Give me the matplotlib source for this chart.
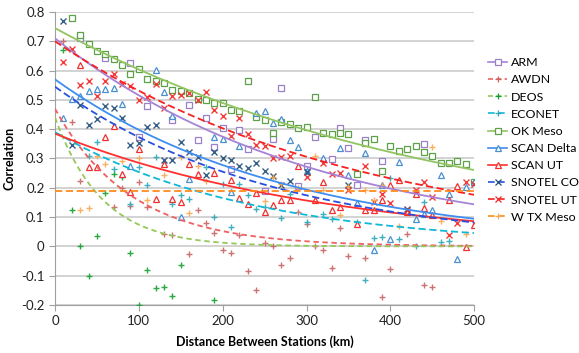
import matplotlib
matplotlib.use("Agg")
import matplotlib.pyplot as plt
from matplotlib.lines import Line2D
import numpy as np

plt.rcParams['font.family'] = ['Lato', 'DejaVu Sans']

# scatter data: distance (km) -> correlation
arm_x = [30, 60, 90, 100, 110, 140, 160, 170, 180, 190, 200, 210, 220, 230, 250, 260, 270, 290,
         300, 310, 330, 340, 350, 360, 370, 390, 440]
arm_y = [0.71, 0.644, 0.627, 0.375, 0.478, 0.43, 0.481, 0.362, 0.437, 0.339, 0.404, 0.263, 0.398,
         0.331, 0.189, 0.365, 0.54, 0.205, 0.276, 0.373, 0.299, 0.405, 0.336, 0.208, 0.362, 0.291, 0.348]

awdn_x = [10, 20, 30, 70, 80, 90, 100, 110, 130, 140, 160, 170, 180, 190, 200, 210, 220, 230, 240,
          250, 260, 270, 280, 290, 300, 310, 320, 330, 340, 350, 370, 390, 400, 420, 440, 450]
awdn_y = [0.70, 0.424, 0.223, 0.134, 0.2, 0.137, 0.22, 0.134, 0.041, 0.038, -0.025, 0.125, 0.081,
          0.045, -0.014, -0.023, 0.04, -0.085, -0.15, 0.011, 0.0, -0.065, -0.039, 0.117, 0.077, 0.0,
          -0.011, -0.073, 0.064, -0.034, -0.039, -0.173, -0.076, 0.041, -0.133, -0.139]

deos_x = [10, 20, 30, 40, 50, 60, 70, 80, 90, 100, 110, 120, 130, 140, 150, 190]
deos_y = [0.671, 0.125, 0.0, -0.102, 0.035, 0.182, 0.246, 0.237, -0.022, -0.2, -0.082, -0.142,
          -0.137, -0.171, -0.065, -0.184]

econet_x = [40, 50, 70, 90, 100, 110, 120, 140, 150, 160, 180, 190, 200, 210, 220, 230, 240, 250,
            270, 280, 300, 320, 330, 360, 370, 380, 390, 400, 410, 430, 440, 460, 470]
econet_y = [0.309, 0.356, 0.265, 0.146, 0.271, 0.208, 0.305, 0.146, 0.174, 0.163, 0.27, 0.1, 0.214,
            0.066, 0.214, 0.177, 0.128, 0.134, 0.097, 0.18, 0.083, 0.111, 0.094, 0.083, -0.116, 0.03,
            0.032, 0.235, 0.026, 0.003, 0.151, 0.015, 0.02]

okmeso_x = list(range(20, 510, 10))
okmeso_y = [0.78, 0.72, 0.69, 0.667, 0.658, 0.64, 0.62, 0.59, 0.604, 0.572, 0.563, 0.557, 0.535,
            0.532, 0.523, 0.503, 0.498, 0.491, 0.489, 0.467, 0.463, 0.563, 0.441, 0.432, 0.388,
            0.423, 0.419, 0.404, 0.407, 0.51, 0.388, 0.385, 0.387, 0.382, 0.246, 0.353, 0.368,
            0.257, 0.341, 0.324, 0.331, 0.341, 0.322, 0.307, 0.284, 0.284, 0.291, 0.28, 0.22]

scand_x = [10, 20, 30, 40, 50, 60, 70, 80, 90, 120, 130, 140, 150, 160, 190, 200, 210, 220, 240,
           250, 260, 270, 280, 290, 300, 320, 340, 350, 360, 370, 380, 390, 400, 410, 430, 440,
           450, 460, 470, 480, 490, 500]
scand_y = [0.438, 0.504, 0.512, 0.532, 0.538, 0.538, 0.542, 0.487, 0.273, 0.603, 0.527, 0.444, 0.10,
           0.231, 0.373, 0.368, 0.185, 0.342, 0.456, 0.461, 0.422, 0.436, 0.364, 0.339, 0.259,
           0.301, 0.336, 0.242, 0.149, 0.318, -0.014, 0.208, 0.026, 0.288, 0.094, 0.11, 0.125,
           0.242, 0.18, -0.042, 0.202, 0.22]

scanut_x = [30, 40, 50, 60, 70, 80, 90, 100, 120, 130, 140, 150, 160, 170, 190, 210, 220, 230, 240,
            250, 260, 270, 280, 290, 310, 320, 330, 340, 360, 370, 380, 390, 400, 410, 420, 430,
            440, 450, 470, 480, 490, 500]
scanut_y = [0.62, 0.271, 0.271, 0.375, 0.41, 0.248, 0.185, 0.333, 0.163, 0.282, 0.163, 0.151,
            0.282, 0.246, 0.25, 0.228, 0.166, 0.143, 0.182, 0.117, 0.14, 0.157, 0.159, 0.276,
            0.159, 0.22, 0.123, 0.134, 0.075, 0.125, 0.125, 0.157, 0.208, 0.225, 0.117, 0.18,
            0.132, 0.108, 0.157, 0.205, -0.002, 0.072]

snotco_x = [10, 20, 30, 40, 50, 60, 70, 80, 90, 100, 110, 120, 130, 140, 150, 160, 170, 180, 190,
            200, 210, 220, 230, 240, 250, 260, 270, 280, 300, 350, 420]
snotco_y = [0.768, 0.345, 0.484, 0.415, 0.436, 0.479, 0.472, 0.439, 0.347, 0.354, 0.407, 0.415,
            0.296, 0.296, 0.356, 0.322, 0.305, 0.242, 0.322, 0.30, 0.294, 0.274, 0.267, 0.284,
            0.257, 0.239, 0.21, 0.223, 0.254, 0.208, 0.128]

snotut_x = [10, 20, 30, 40, 50, 60, 70, 80, 90, 100, 110, 120, 130, 140, 150, 160, 170, 180, 190,
            200, 210, 220, 230, 240, 250, 260, 270, 280, 300, 320, 330, 340, 350, 370, 380, 390,
            400, 420, 430, 440, 450, 470, 480, 490, 500]
snotut_y = [0.629, 0.675, 0.55, 0.563, 0.513, 0.563, 0.587, 0.555, 0.546, 0.5, 0.51, 0.555, 0.473,
            0.512, 0.518, 0.523, 0.498, 0.527, 0.464, 0.444, 0.376, 0.439, 0.385, 0.345, 0.342,
            0.303, 0.305, 0.31, 0.237, 0.286, 0.248, 0.25, 0.193, 0.276, 0.151, 0.18, 0.148,
            0.125, 0.191, 0.22, 0.168, 0.04, 0.08, 0.22, 0.212]

wtx_x = [30, 40, 50, 60, 80, 100, 110, 130, 150, 160, 170, 180, 250, 260, 270, 290, 310, 320, 340,
         350, 370, 380, 390, 410, 450, 460, 490]
wtx_y = [0.123, 0.131, 0.307, 0.282, 0.293, 0.301, 0.157, 0.242, 0.305, 0.114, 0.276, 0.223, 0.155,
         0.237, 0.214, 0.2, 0.307, 0.193, 0.106, 0.206, 0.191, 0.159, 0.208, 0.07, 0.339, 0.085, 0.043]

# exponential trend lines y = a * exp(-b * x)
trend_a = [0.71, 0.47, 0.44, 0.39, 0.745, 0.57, 0.385, 0.545, 0.70, 0.19]
trend_b = [0.0032, 0.011, 0.0178, 0.0043, 0.0021, 0.0036, 0.003, 0.0038, 0.00276, 0.0]

names = ["ARM", "AWDN", "DEOS", "ECONET", "OK Meso", "SCAN Delta", "SCAN UT",
         "SNOTEL CO", "SNOTEL UT", "W TX Meso"]
xs = [arm_x, awdn_x, deos_x, econet_x, okmeso_x, scand_x, scanut_x, snotco_x, snotut_x, wtx_x]
ys = [arm_y, awdn_y, deos_y, econet_y, okmeso_y, scand_y, scanut_y, snotco_y, snotut_y, wtx_y]

mk_color = ["#9A80C8", "#C86464", "#10A030", "#2AA8B8", "#5EA048", "#4A90D0", "#F03030",
            "#1F4E79", "#F02828", "#F8A850"]
ln_color = ["#A583D6", "#F06060", "#96C85A", "#10B8D8", "#92C462", "#3D8EF0", "#FF3030",
            "#2850E0", "#F82020", "#FF8A1E"]
markers = ["s", "+", "+", "+", "s", "^", "^", "x", "x", "+"]
filled = [False, True, True, True, False, False, False, True, True, True]
styles = ["-", (0, (3, 2)), (0, (3, 2)), (0, (4, 2)), "-", "-", "-", (0, (4, 2)), (0, (4, 2)), (0, (4, 2))]

fig = plt.figure(figsize=(5.79, 3.53), dpi=100)
ax = fig.add_axes([0.095, 0.136, 0.724, 0.830])

xx = np.linspace(0, 500, 200)
handles = []
for i in range(len(names)):
    if filled[i]:
        size = 4.0 if markers[i] == "x" else 5.0
        ax.plot(xs[i], ys[i], linestyle="none", marker=markers[i], ms=size, mew=1.0,
                color=mk_color[i], alpha=0.9, zorder=3)
    else:
        size = 4.0 if markers[i] == "^" else 3.8
        ax.plot(xs[i], ys[i], linestyle="none", marker=markers[i], ms=size, mew=0.9,
                mfc="white", mec=mk_color[i], zorder=3)
    ax.plot(xx, trend_a[i] * np.exp(-trend_b[i] * xx), linestyle=styles[i],
            color=ln_color[i], lw=1.3, zorder=4)
    h = Line2D([], [], color=ln_color[i], linestyle=styles[i], lw=1.2, marker=markers[i],
               ms=3.8 if not filled[i] else 4.5, mew=0.9,
               mfc="white" if not filled[i] else mk_color[i], mec=mk_color[i])
    handles.append(h)

ax.set_xlim(0, 500)
ax.set_ylim(-0.2, 0.8)
ax.set_xticks(np.arange(0, 501, 100))
ax.set_yticks(np.arange(-0.2, 0.81, 0.1))
ax.set_yticklabels(["-0.2", "-0.1", "0", "0.1", "0.2", "0.3", "0.4", "0.5", "0.6", "0.7", "0.8"])
ax.yaxis.grid(True, color="#C8C8C8", lw=1.1)
ax.set_axisbelow(True)
for s in ["top", "right"]:
    ax.spines[s].set_visible(False)
ax.spines["left"].set_color("#A0A0A0")
ax.spines["bottom"].set_color("#A0A0A0")
ax.tick_params(axis="both", colors="#A0A0A0", labelcolor="#222222", labelsize=9.5, length=4)
ax.set_xlabel("Distance Between Stations (km)", fontsize=9, fontweight="bold", labelpad=6)
ax.set_ylabel("Correlation", fontsize=9, fontweight="bold", labelpad=4)

fig.legend(handles=handles, labels=names, loc="upper left", bbox_to_anchor=(0.835, 0.852),
           frameon=False, fontsize=8.9, handlelength=1.5, handletextpad=0.3,
           labelspacing=0.5, borderaxespad=0)

fig.savefig("out.png", dpi=100)
